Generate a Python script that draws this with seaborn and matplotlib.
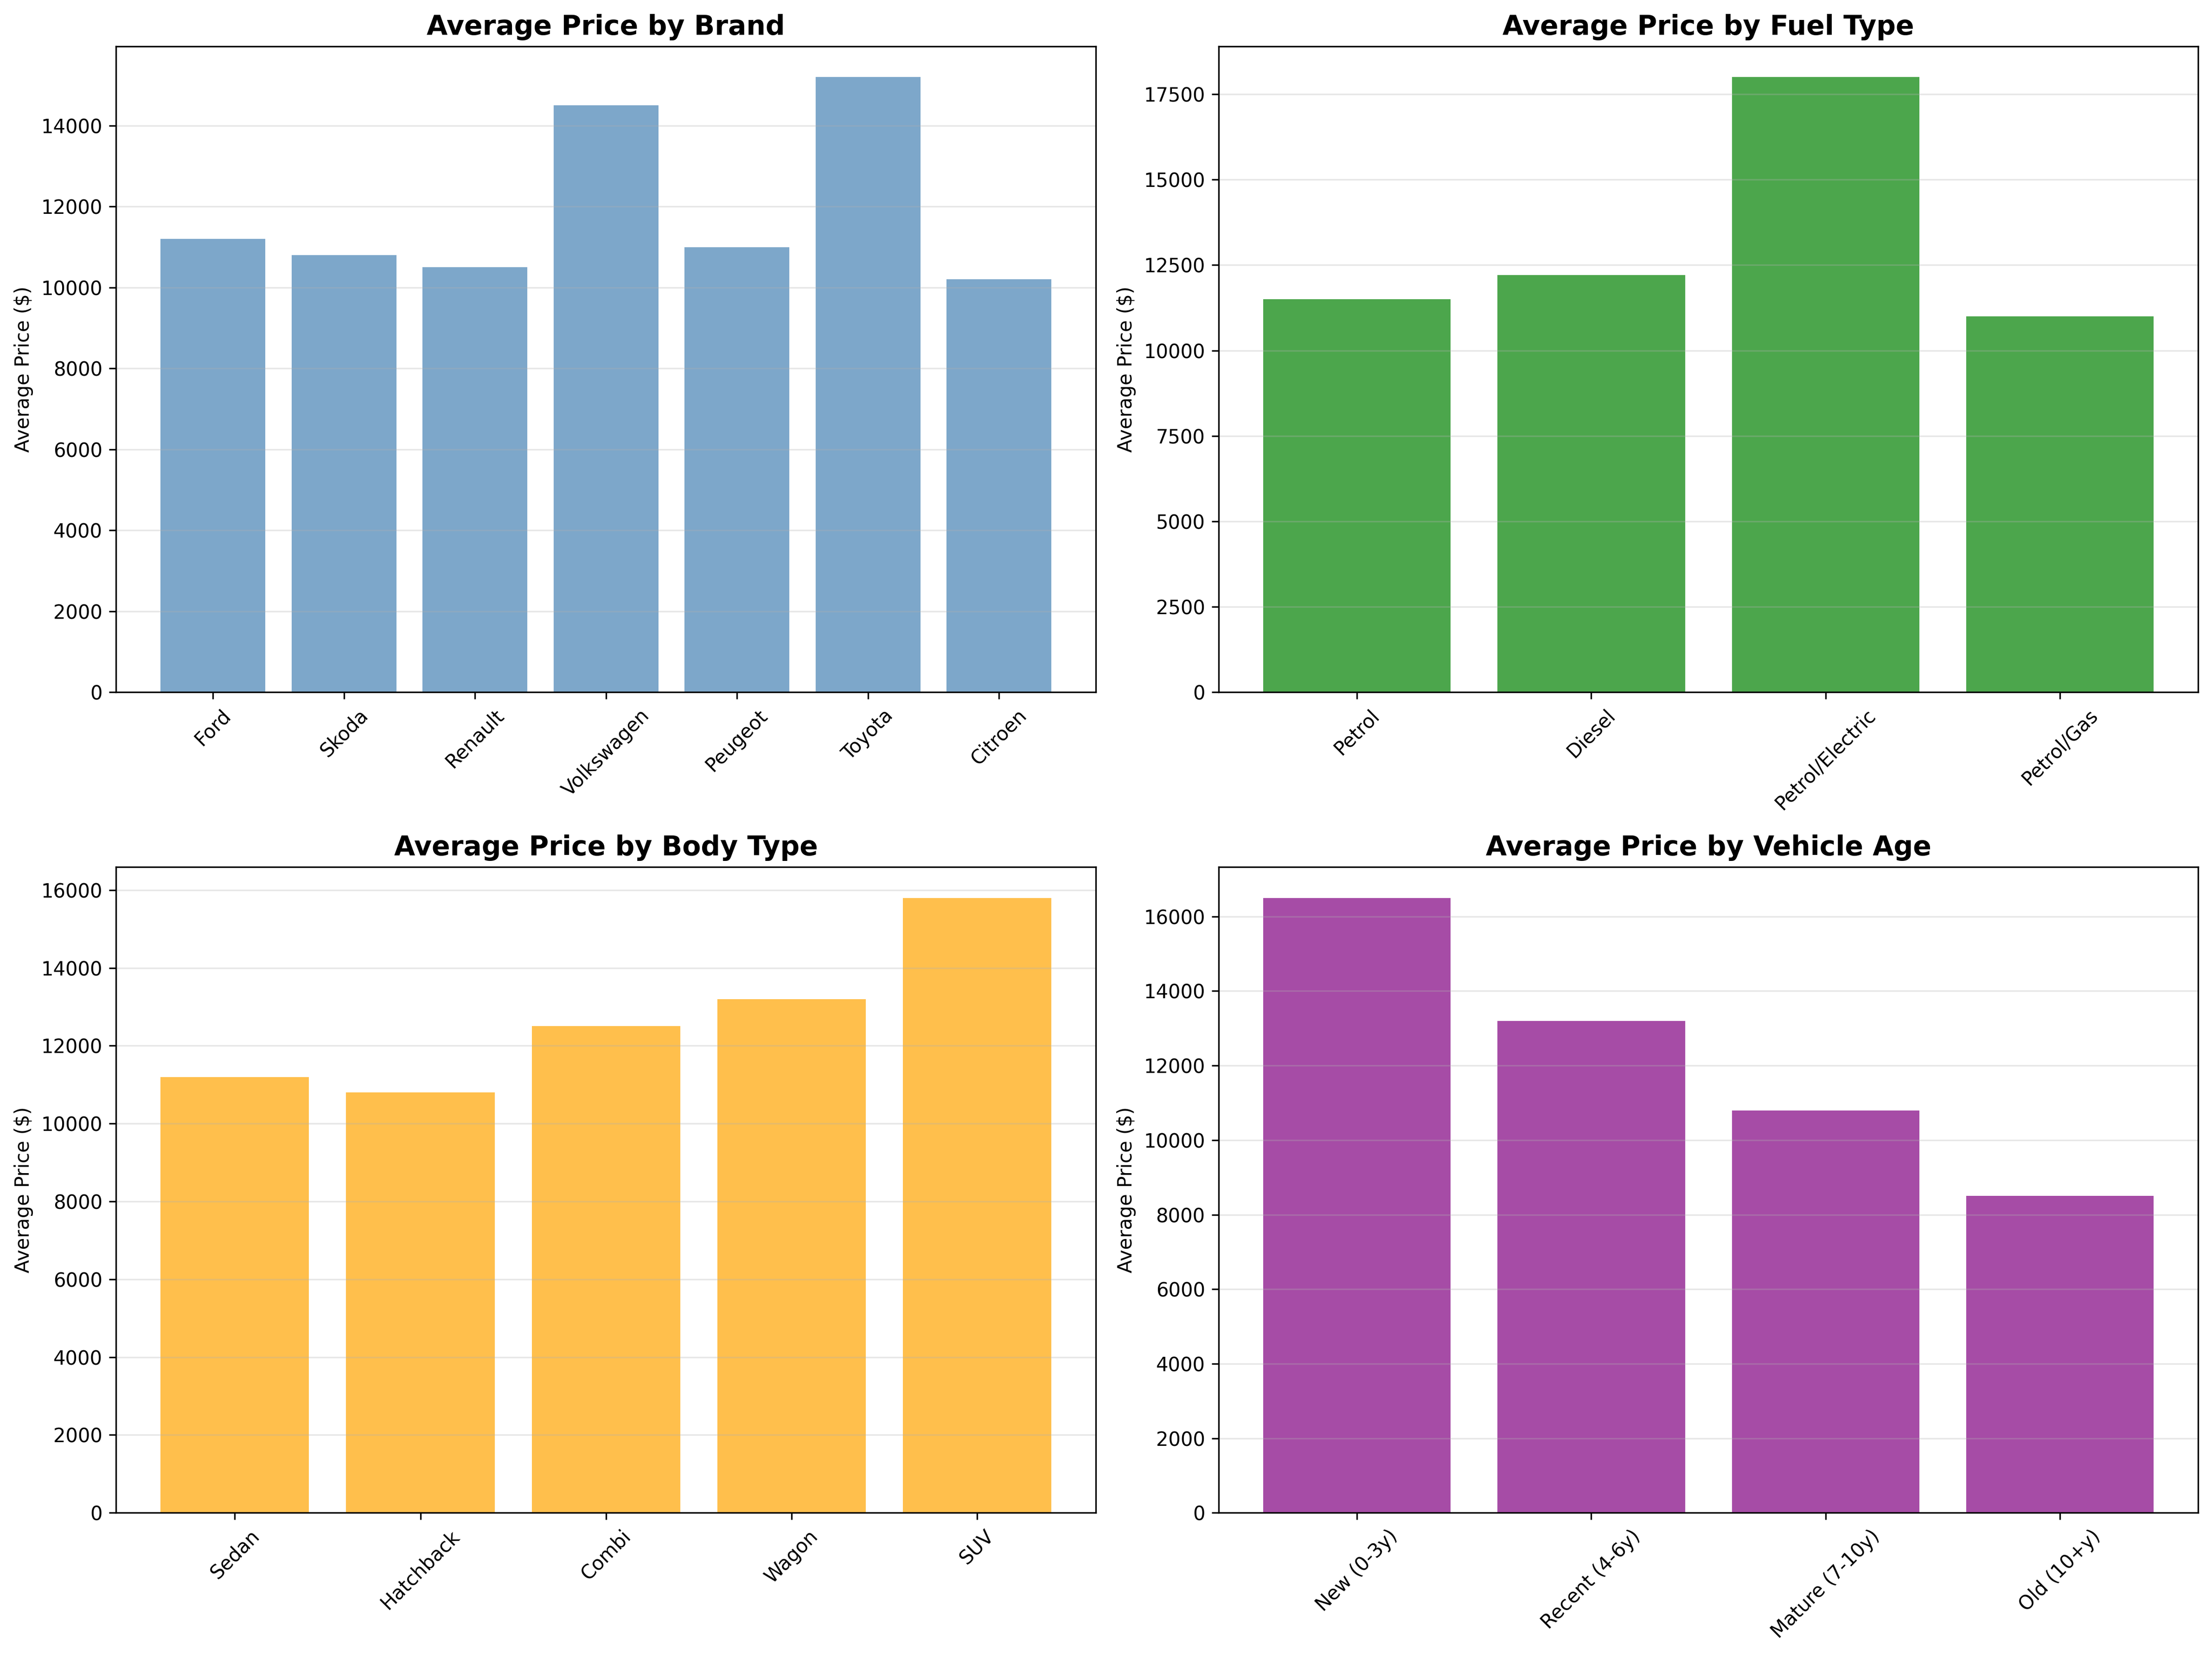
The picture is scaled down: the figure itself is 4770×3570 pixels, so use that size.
import matplotlib
matplotlib.use("Agg")
import matplotlib.pyplot as plt
import seaborn as sns

brands = ["Ford", "Skoda", "Renault", "Volkswagen", "Peugeot", "Toyota", "Citroen"]
brand_prices = [11200, 10800, 10500, 14500, 11000, 15200, 10200]

fuels = ["Petrol", "Diesel", "Petrol/Electric", "Petrol/Gas"]
fuel_prices = [11500, 12200, 18000, 11000]

bodies = ["Sedan", "Hatchback", "Combi", "Wagon", "SUV"]
body_prices = [11200, 10800, 12500, 13200, 15800]

ages = ["New (0-3y)", "Recent (4-6y)", "Mature (7-10y)", "Old (10+y)"]
age_prices = [16500, 13200, 10800, 8500]

panels = [
    (brands, brand_prices, "steelblue", "Average Price by Brand"),
    (fuels, fuel_prices, "green", "Average Price by Fuel Type"),
    (bodies, body_prices, "orange", "Average Price by Body Type"),
    (ages, age_prices, "purple", "Average Price by Vehicle Age"),
]

fig, axes = plt.subplots(2, 2, figsize=(16, 12))
for ax, (cats, vals, col, title) in zip(axes.flat, panels):
    sns.barplot(x=cats, y=vals, color=col, alpha=0.7, saturation=1, width=0.8, ax=ax)
    ax.margins(x=0.05)
    ax.autoscale(enable=True, axis="x")
    ax.set_title(title, fontsize=14, fontweight="bold")
    ax.set_ylabel("Average Price ($)")
    ax.set_xlabel("")
    ax.tick_params(axis="x", rotation=45)
    ax.grid(axis="y", alpha=0.3)

plt.tight_layout()
fig.savefig("out.png", dpi=300, bbox_inches="tight")
